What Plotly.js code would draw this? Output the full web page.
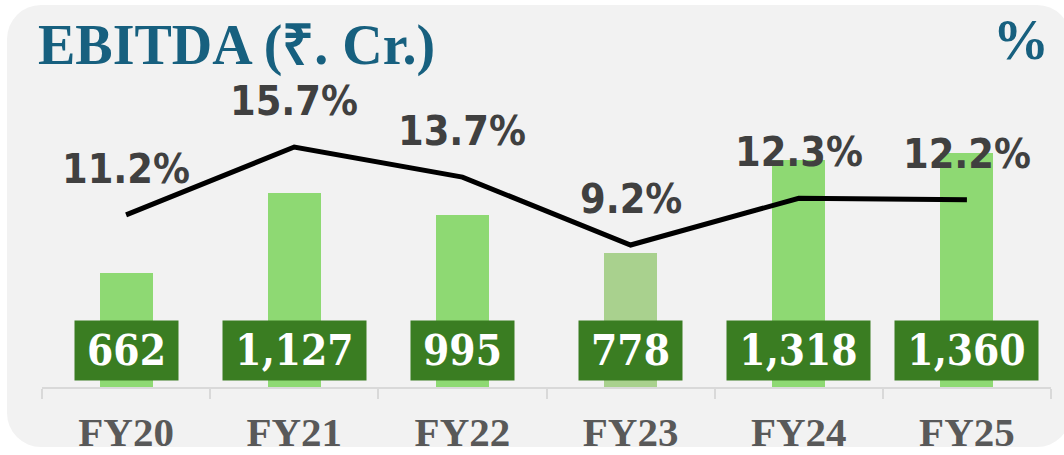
<!DOCTYPE html>
<html>
<head>
<meta charset="utf-8">
<script src="https://cdn.plot.ly/plotly-3.0.1.min.js"></script>
<style>
  html, body { margin: 0; padding: 0; background: #ffffff; }
  #bg { position: absolute; left: 7px; top: 5px; width: 1064px; height: 442px;
        background: #f2f2f2; border-radius: 34px; }
  #chart { position: absolute; left: 0; top: 0; width: 1064px; height: 455px; }
</style>
</head>
<body>
<div id="bg"></div>
<div id="chart"></div>
<script>
// ---- data ----
const categories = ["FY20", "FY21", "FY22", "FY23", "FY24", "FY25"];
const ebitda = [662, 1127, 995, 778, 1318, 1360];
const marginPct = [11.2, 15.7, 13.7, 9.2, 12.3, 12.2];
const ebitdaLabels = ["662", "1,127", "995", "778", "1,318", "1,360"];
const marginLabels = ["11.2%", "15.7%", "13.7%", "9.2%", "12.3%", "12.2%"];

// ---- styles ----
const barColors = categories.map((c, i) => i === 3 ? "#a9d18e" : "#8ed973");

const bars = {
  type: "bar", x: categories, y: ebitda, width: 0.315,
  marker: { color: barColors, line: { width: 0 } },
  hoverinfo: "skip", yaxis: "y"
};
const line = {
  type: "scatter", mode: "lines", x: categories, y: marginPct, yaxis: "y2",
  line: { color: "#000000", width: 5 }, hoverinfo: "skip"
};

const annotations = [];
categories.forEach((c, i) => {
  annotations.push({
    x: c, y: marginPct[i], xref: "x", yref: "y2", text: marginLabels[i],
    showarrow: false, yanchor: "bottom", yshift: 20,
    font: { family: "DejaVu Sans Condensed, DejaVu Sans", size: 41, color: "#404040", weight: "bold" }
  });
  annotations.push({
    x: c, y: 0.1116, xref: "x", yref: "paper", text: ebitdaLabels[i],
    showarrow: false, yanchor: "middle", xanchor: "center",
    bgcolor: "#3a7d22", borderpad: 4, width: ebitdaLabels[i].length > 3 ? 135 : 95, height: 51,
    font: { family: "DejaVu Serif Condensed, DejaVu Serif", size: 42, color: "#ffffff", weight: "bold" }
  });
});
annotations.push({
  x: 1, y: 1, xref: "paper", yref: "paper", text: "<b>%</b>",
  showarrow: false, xanchor: "right", yanchor: "bottom", yshift: -13,
  font: { family: "Liberation Serif", size: 56, color: "#17607f" }
});

const layout = {
  width: 1064, height: 455,
  margin: { l: 42, r: 13, t: 60, b: 68 },
  paper_bgcolor: "rgba(0,0,0,0)", plot_bgcolor: "rgba(0,0,0,0)",
  showlegend: false,
  title: {
    text: "<b>EBITDA (₹. Cr.)</b>", x: 38 / 1064, xanchor: "left", y: 1 - 64 / 455, yanchor: "bottom",
    xref: "container", yref: "container",
    font: { family: "Liberation Serif", size: 56, color: "#17607f" }
  },
  xaxis: {
    type: "category", range: [-0.5, 5.5], tickson: "boundaries",
    showline: true, linecolor: "#d9d9d9", linewidth: 2,
    ticks: "outside", ticklen: 10, tickcolor: "#d9d9d9", tickwidth: 2,
    showgrid: false, zeroline: false, ticklabelstandoff: 8,
    tickfont: { family: "Liberation Serif", size: 41, color: "#595959", weight: "bold" }
  },
  yaxis: {
    range: [0, 1896.6], visible: false, showgrid: false, zeroline: false
  },
  yaxis2: {
    range: [-0.216, 21.47], overlaying: "y", side: "right", visible: false,
    showgrid: false, zeroline: false
  },
  annotations: annotations,
  bargap: 0
};

Plotly.newPlot("chart", [bars, line], layout, { displayModeBar: false, staticPlot: true });
</script>
</body>
</html>
